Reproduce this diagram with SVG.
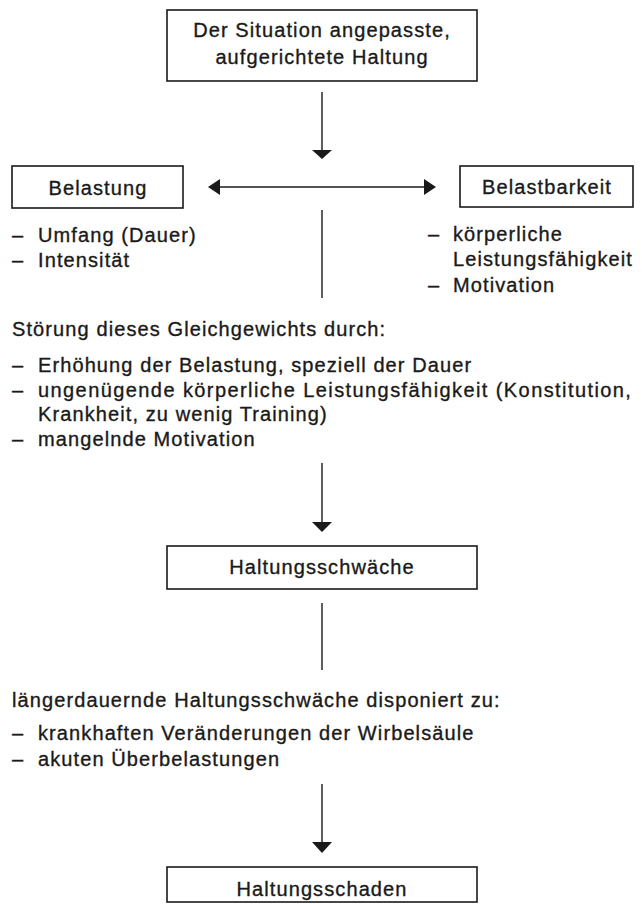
<svg xmlns="http://www.w3.org/2000/svg" width="642" height="904" viewBox="0 0 642 904">
<style>
.box{fill:#fff;stroke:#1a1a1a;stroke-width:1.6}
.t{font-family:"Liberation Sans",Arial,sans-serif;font-size:20px;letter-spacing:1.1px;fill:#1a1a1a;stroke:#1a1a1a;stroke-width:0.35}
.c{text-anchor:middle}
.ln{stroke:#1a1a1a;stroke-width:1.4;fill:none}
.hd{fill:#1a1a1a}
</style>
<rect width="642" height="904" fill="#fff"/>
<g id="connectors">
<line class="ln" x1="322" y1="92" x2="322" y2="151"/>
<polygon class="hd" points="312,150 332,150 322,159"/>
<line class="ln" x1="218" y1="187" x2="427" y2="187"/>
<polygon class="hd" points="208,187 220,179 220,195"/>
<polygon class="hd" points="436,187 424,179 424,195"/>
<line class="ln" x1="322" y1="210" x2="322" y2="298"/>
<line class="ln" x1="322" y1="463" x2="322" y2="523"/>
<polygon class="hd" points="312,522 332,522 322,532"/>
<line class="ln" x1="322" y1="603" x2="322" y2="670"/>
<line class="ln" x1="322" y1="784" x2="322" y2="843"/>
<polygon class="hd" points="312,842 332,842 322,853"/>
</g>
<g id="n-haltung">
<rect class="box" x="167" y="10" width="310" height="71"/>
<text class="t c" x="322" y="37">Der Situation angepasste,</text>
<text class="t c" x="322" y="64">aufgerichtete Haltung</text>
</g>
<g id="n-belastung">
<rect class="box" x="12" y="166" width="171" height="42"/>
<text class="t c" x="98" y="195">Belastung</text>
</g>
<g id="n-belastbarkeit">
<rect class="box" x="460" y="166" width="173" height="41"/>
<text class="t c" x="547" y="194">Belastbarkeit</text>
</g>
<g id="list-belastung">
<text class="t" x="12" y="242">–</text><text class="t" x="38" y="242">Umfang (Dauer)</text>
<text class="t" x="12" y="267">–</text><text class="t" x="38" y="267">Intensität</text>
</g>
<g id="list-belastbarkeit">
<text class="t" x="428" y="241">–</text><text class="t" x="453" y="241">körperliche</text>
<text class="t" x="453" y="266">Leistungsfähigkeit</text>
<text class="t" x="428" y="292">–</text><text class="t" x="453" y="292">Motivation</text>
</g>
<g id="stoerung">
<text class="t" x="12" y="336">Störung dieses Gleichgewichts durch:</text>
<text class="t" x="12" y="372">–</text><text class="t" x="38" y="372">Erhöhung der Belastung, speziell der Dauer</text>
<text class="t" x="12" y="397">–</text>
<text class="t" x="38" y="397" textLength="594" lengthAdjust="spacing">ungenügende körperliche Leistungsfähigkeit (Konstitution,</text>
<text class="t" x="38" y="421">Krankheit, zu wenig Training)</text>
<text class="t" x="12" y="446">–</text><text class="t" x="38" y="446">mangelnde Motivation</text>
</g>
<g id="n-schwaeche">
<rect class="box" x="167" y="546" width="310" height="43"/>
<text class="t c" x="322" y="574">Haltungsschwäche</text>
</g>
<g id="disponiert">
<text class="t" x="12" y="707">längerdauernde Haltungsschwäche disponiert zu:</text>
<text class="t" x="12" y="740">–</text><text class="t" x="38" y="740">krankhaften Veränderungen der Wirbelsäule</text>
<text class="t" x="12" y="766">–</text><text class="t" x="38" y="766">akuten Überbelastungen</text>
</g>
<g id="n-schaden">
<rect class="box" x="167" y="867" width="310" height="35"/>
<text class="t c" x="322" y="896">Haltungsschaden</text>
</g>
</svg>
